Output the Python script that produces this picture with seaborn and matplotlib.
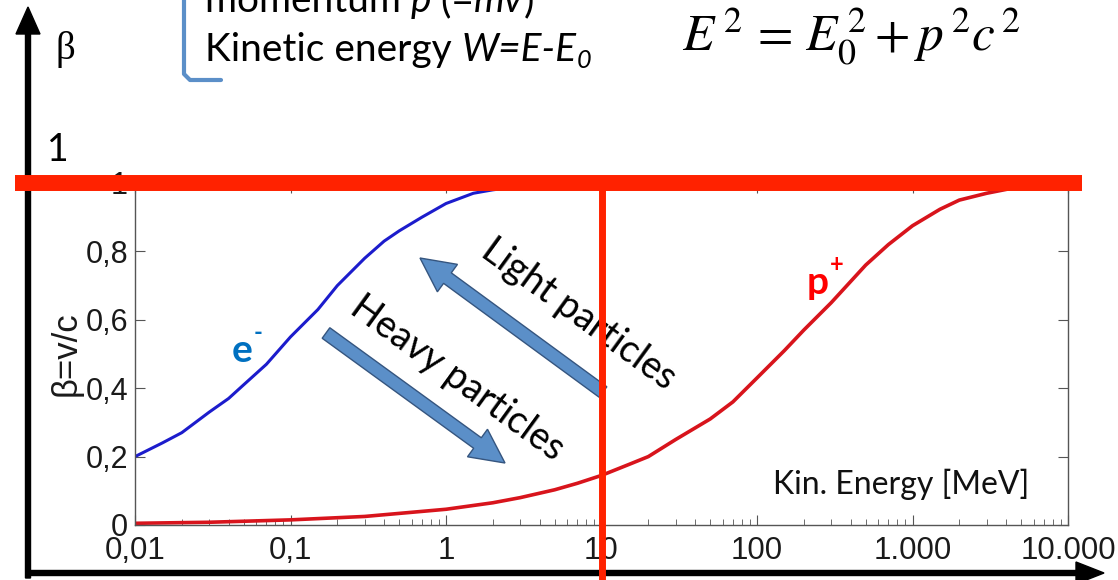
import matplotlib
matplotlib.use("Agg")
import matplotlib.pyplot as plt
import seaborn as sns
import pandas as pd

# values
e_energy = [0.01, 0.015, 0.02, 0.03, 0.04, 0.05, 0.07, 0.1, 0.15, 0.2, 0.3, 0.4, 0.5, 0.7, 1, 1.5, 2, 3]
e_beta = [0.20, 0.24, 0.27, 0.33, 0.37, 0.41, 0.47, 0.55, 0.63, 0.70, 0.78, 0.83, 0.86, 0.90, 0.94, 0.97, 0.98, 0.99]
p_energy = [0.01, 0.03, 0.1, 0.3, 1, 2, 3, 5, 7, 10, 15, 20, 30, 50, 70, 100, 150, 200, 300, 500, 700,
            1000, 1500, 2000, 3000, 5000, 10000]
p_beta = [0.005, 0.008, 0.015, 0.025, 0.046, 0.065, 0.080, 0.103, 0.122, 0.145, 0.177, 0.20, 0.25, 0.31,
          0.36, 0.43, 0.51, 0.57, 0.65, 0.76, 0.82, 0.875, 0.923, 0.95, 0.97, 0.99, 0.996]
x_ticks = [0.01, 0.1, 1, 10, 100, 1000, 10000]
x_labels = ["0,01", "0,1", "1", "10", "100", "1.000", "10.000"]
y_ticks = [0, 0.2, 0.4, 0.6, 0.8, 1]
y_labels = ["0", "0,2", "0,4", "0,6", "0,8", "1"]

sns.set_style("ticks")
plt.rcParams["font.family"] = ["Lato", "DejaVu Sans"]
plt.rcParams["text.color"] = "black"

fig = plt.figure(figsize=(11.18, 5.8), dpi=100)

# overlay in pixel units for the slide decorations
ov = fig.add_axes([0, 0, 1, 1], zorder=0)
ov.set_xlim(0, 1118)
ov.set_ylim(580, 0)
ov.axis("off")

ax = fig.add_axes([135 / 1118, 55 / 580, 933 / 1118, 342 / 580], zorder=1)
ax.patch.set_alpha(0)

df_e = pd.DataFrame({"energy": e_energy, "beta": e_beta})
df_p = pd.DataFrame({"energy": p_energy, "beta": p_beta})
sns.lineplot(data=df_e, x="energy", y="beta", ax=ax, color="#1c1ccc", lw=2.2)
sns.lineplot(data=df_p, x="energy", y="beta", ax=ax, color="#d8141c", lw=2.6)

ax.set_xscale("log")
ax.set_xlim(0.01, 10000)
ax.set_ylim(0, 1)
ax.set_xticks(x_ticks)
ax.set_xticklabels(x_labels, fontfamily="Liberation Sans", fontsize=22.5, color="#1a1a1a")
ax.set_yticks(y_ticks)
ax.set_yticklabels(y_labels, fontfamily="Liberation Sans", fontsize=22, color="#1a1a1a")
for s in ax.spines.values():
    s.set_visible(True)
    s.set_color("#555555")
    s.set_linewidth(1)
ax.tick_params(axis="both", which="both", direction="in", top=True, right=True,
               color="#555555")
ax.tick_params(axis="both", which="major", length=7)
ax.tick_params(axis="x", which="minor", length=4)
ax.tick_params(axis="x", pad=8)
ax.tick_params(axis="y", pad=5)
ax.set_xlabel("")
ax.set_ylabel("β=v/c", fontsize=25, fontfamily="Liberation Sans", labelpad=2, color="#1a1a1a")

ax.text(0.958, 0.12, "Kin. Energy [MeV]", transform=ax.transAxes, ha="right",
        va="center", fontsize=23, color="#111111")

# big red markers at beta = 1 and 10 MeV
ax.axhline(1, xmin=(15 - 135) / 933, xmax=(1082 - 135) / 933, color="#ff2200",
           lw=11.5, clip_on=False, zorder=10, solid_capstyle="butt")
ax.axvline(10, ymin=(525 - 582) / 342, ymax=(525 - 178) / 342, color="#ff2200",
           lw=5, clip_on=False, zorder=10, solid_capstyle="butt")

# black slide axes
ov.arrow(28, 578, 0, -571, width=5, head_width=24, head_length=27,
         length_includes_head=True, fc="black", ec="black")
ov.arrow(26, 573, 1078, 0, width=5, head_width=22, head_length=28,
         length_includes_head=True, fc="black", ec="black")
ov.text(65, 50, "β", fontsize=28, family="Liberation Serif", ha="center", va="center")
ov.text(58, 150, "1", fontsize=27, ha="center", va="center")

# blue direction arrows
ov.arrow(603, 392, -183, -134, width=13, head_width=34, head_length=34,
         length_includes_head=True, fc="#5b8fc8", ec="#35557f", lw=1)
ov.arrow(326, 333, 179, 130, width=13, head_width=34, head_length=34,
         length_includes_head=True, fc="#5b8fc8", ec="#35557f", lw=1)
ov.text(579, 314, "Light particles", fontsize=27, rotation=-36,
        ha="center", va="center", rotation_mode="anchor")
ov.text(457, 378, "Heavy particles", fontsize=27, rotation=-36,
        ha="center", va="center", rotation_mode="anchor")

ov.text(242, 350, "e", fontsize=28, fontweight="bold", color="#0070c0",
        ha="center", va="center")
ov.text(258, 333, "-", fontsize=17, fontweight="bold", color="#0070c0",
        ha="center", va="center")
ov.text(818, 282, "p", fontsize=28, fontweight="bold", color="#ff0000",
        ha="center", va="center")
ov.text(837, 265, "+", fontsize=17, fontweight="bold", color="#ff0000",
        ha="center", va="center")

# bracket and header text
ov.plot([184, 184, 190, 221], [-5, 74, 80, 80], color="#5b8fc8", lw=3,
        solid_joinstyle="round")

renderer = fig.canvas.get_renderer()


def put_runs(x, y, runs, size):
    for s, style, dy, scale in runs:
        t = ov.text(x, y + dy, s, fontsize=size * scale, fontstyle=style,
                    va="baseline", ha="left")
        x += t.get_window_extent(renderer=renderer).width


put_runs(205, 12, [("momentum ", "normal", 0, 1), ("p", "italic", 0, 1),
                   (" (=", "normal", 0, 1), ("mv", "italic", 0, 1),
                   (")", "normal", 0, 1)], 28)
put_runs(205, 61, [("Kinetic energy ", "normal", 0, 1), ("W=E-E", "italic", 0, 1),
                   ("0", "italic", 7, 0.65)], 28)

ov.text(682, 51, r"$E^{\,2}\,=\,E_0^{\,2}+p^{\,2}c^{\,2}$", fontsize=37,
        math_fontfamily="stix", va="baseline", ha="left")

fig.savefig("out.png", dpi=100)
